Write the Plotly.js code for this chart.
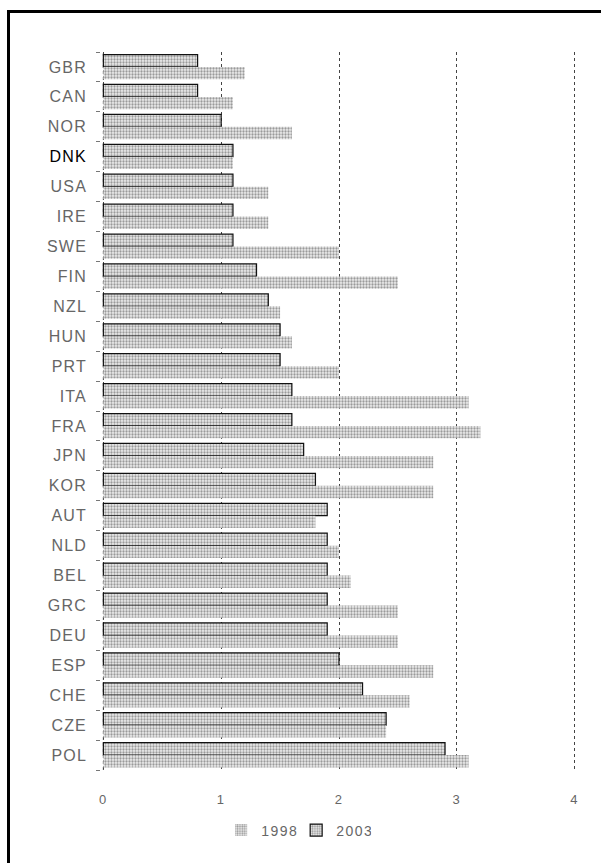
<!DOCTYPE html>
<html>
<head>
<meta charset="utf-8">
<script src="https://cdn.plot.ly/plotly-3.0.1.min.js"></script>
<style>
html,body{margin:0;padding:0;background:#fff;overflow:hidden;}
#wrap{position:relative;width:601px;height:863px;}
#chart{position:absolute;left:0;top:0;width:601px;height:863px;}
#frame{position:absolute;left:7px;top:10px;width:610px;height:870px;border-left:3px solid #000;border-top:3px solid #000;pointer-events:none;}
.ytick text{letter-spacing:1.2px;}
.xtick text, .legendtext{letter-spacing:1.5px;}
</style>
</head>
<body>
<div id="wrap"><div id="chart"></div><div id="frame"></div></div>
<script>
const countries = ["GBR","CAN","NOR","DNK","USA","IRE","SWE","FIN","NZL","HUN","PRT","ITA","FRA","JPN","KOR","AUT","NLD","BEL","GRC","DEU","ESP","CHE","CZE","POL"];
const values2003 = [0.8,0.8,1.0,1.1,1.1,1.1,1.1,1.3,1.4,1.5,1.5,1.6,1.6,1.7,1.8,1.9,1.9,1.9,1.9,1.9,2.0,2.2,2.4,2.9];
const values1998 = [1.2,1.1,1.6,1.1,1.4,1.4,2.0,2.5,1.5,1.6,2.0,3.1,3.2,2.8,2.8,1.8,2.0,2.1,2.5,2.5,2.8,2.6,2.4,3.1];
const highlighted = ["DNK"];
const xTicks = [0,1,2,3,4];

const tickText = countries.map(c => highlighted.includes(c) ? '<span style="color:#000">' + c + '</span>' : c);

const traces = [
  {
    type: 'bar', orientation: 'h', name: '2003',
    y: countries, x: values2003,
    legendrank: 2,
    marker: {
      color: '#ffffff',
      pattern: {shape: '.', fgcolor: '#9a9a9a', bgcolor: '#ececec', size: 3, solidity: 0.45},
      line: {color: '#111', width: 1.2}
    },
    hoverinfo: 'skip'
  },
  {
    type: 'bar', orientation: 'h', name: '1998',
    y: countries, x: values1998,
    legendrank: 1,
    marker: {
      color: '#ffffff',
      pattern: {shape: '.', fgcolor: '#9a9a9a', bgcolor: '#ececec', size: 3, solidity: 0.45},
      line: {color: 'rgba(0,0,0,0)', width: 0}
    },
    hoverinfo: 'skip'
  }
];

const layout = {
  width: 601, height: 863,
  margin: {l: 101, r: 24, t: 52, b: 93},
  paper_bgcolor: '#fff', plot_bgcolor: '#fff',
  font: {family: 'Liberation Sans, Arial, sans-serif', size: 14, color: '#666'},
  barmode: 'group', bargap: 0.17, bargroupgap: 0,
  showlegend: true,
  legend: {orientation: 'h', x: 0.41, xanchor: 'center', y: -0.062, yanchor: 'top',
           font: {size: 14, color: '#666'}, itemwidth: 30, entrywidth: 30, tracegroupgap: 0},
  shapes: [{type: 'line', xref: 'x', yref: 'paper', x0: xTicks[0], x1: xTicks[0], y0: 0, y1: 1,
            line: {color: '#444', width: 1, dash: 'dot'}, layer: 'below'}],
  xaxis: {
    range: [-0.02, 4.02], tickvals: xTicks, ticktext: xTicks.map(String),
    showgrid: true, gridcolor: '#444', griddash: 'dot', gridwidth: 1,
    zeroline: false, showline: false, ticks: '',
    tickfont: {size: 13, color: '#666'}, ticklabelstandoff: 20, fixedrange: true
  },
  yaxis: {
    type: 'category', autorange: 'reversed',
    tickvals: countries, ticktext: tickText,
    ticks: 'outside', tickson: 'boundaries', ticklen: 4, tickcolor: '#777',
    showgrid: false, zeroline: false, showline: false,
    tickfont: {size: 16, color: '#666'}, ticklabelstandoff: 13, fixedrange: true
  }
};

Plotly.newPlot('chart', traces, layout, {displayModeBar: false, staticPlot: true});
</script>
</body>
</html>
